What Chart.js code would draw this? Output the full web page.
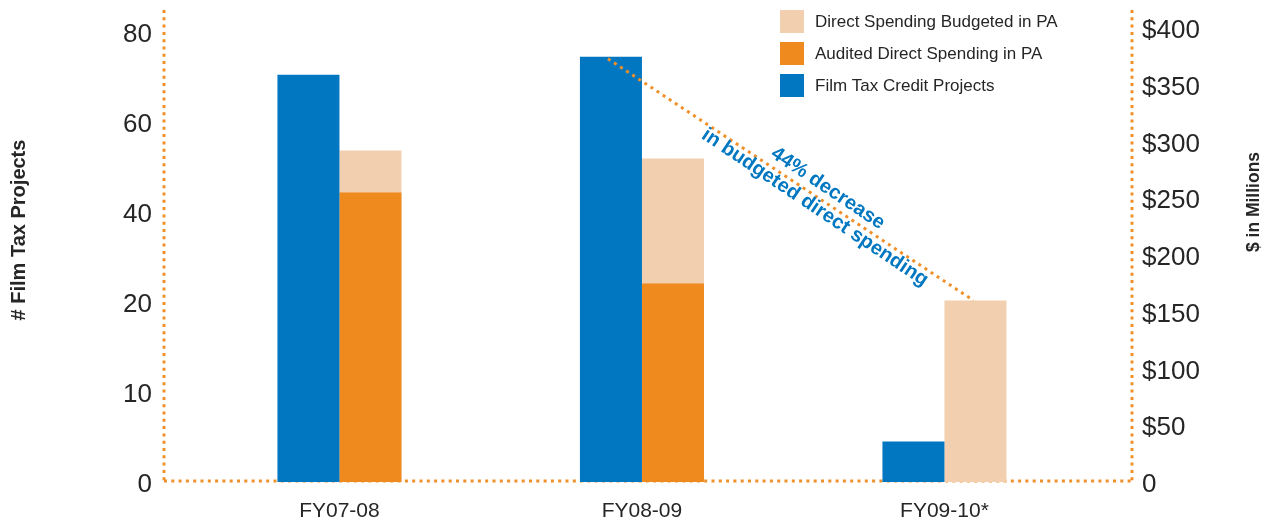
<!DOCTYPE html>
<html>
<head>
<meta charset="utf-8">
<title>Film Tax Credit Projects and Direct Spending in PA</title>
<script src="https://cdn.jsdelivr.net/npm/chart.js@4.4.1/dist/chart.umd.min.js"></script>
<style>
  html, body { margin: 0; padding: 0; background: #fff; }
  #wrap { position: relative; width: 1272px; height: 522px; }
</style>
</head>
<body>
<div id="wrap"><canvas id="filmChart"></canvas></div>
<script>
// --- Data ---
const fiscalYears = ['FY07-08', 'FY08-09', 'FY09-10*'];
const taxCreditProjects = [70.5, 74.5, 4.5];   // # of projects
const auditedSpending = [255, 175, null];       // $ millions
const budgetedSpending = [292, 285, 160];       // $ millions
const projectTicks = [0, 10, 20, 40, 60, 80];
const dollarTicks = [0, 50, 100, 150, 200, 250, 300, 350, 400];
const decreaseNote = ['44% decrease', 'in budgeted direct spending'];

// --- Colours ---
const BLUE = '#0077c0';
const ORANGE = '#ee8a1e';
const PEACH = '#f2cfae';
const DOT_ORANGE = '#f0902a';
const TEXT = '#262626';
const DOTS = [3, 4.3];

Chart.defaults.font.family = "'Liberation Sans', Arial, sans-serif";
Chart.defaults.color = TEXT;

// The left axis of the original has evenly spaced ticks with uneven
// values (0, 10, 20, 40, 60, 80), so values are placed piecewise between ticks.
class SteppedTickScale extends Chart.LinearScale {
	static id = 'steppedTicks';
	static defaults = {};

	toSteps(value) {
		const t = projectTicks;
		for (let i = 1; i < t.length; i++) {
			if (value <= t[i] || i === t.length - 1) {
				return (i - 1) + (value - t[i - 1]) / (t[i] - t[i - 1]);
			}
		}
		return 0;
	}

	buildTicks() {
		return projectTicks.map(v => ({ value: v }));
	}

	getPixelForValue(value) {
		if (value === null || value === undefined) return NaN;
		return super.getPixelForValue(this.toSteps(value));
	}
}
Chart.register(SteppedTickScale);

// Dotted frame, axis titles, legend, trend line and its note
const decorations = {
	id: 'decorations',
	beforeDatasetsDraw(chart) {
		const { ctx, chartArea: a } = chart;
		ctx.save();
		ctx.strokeStyle = DOT_ORANGE;
		ctx.lineWidth = 3;
		ctx.setLineDash(DOTS);
		ctx.beginPath();
		ctx.moveTo(a.left, a.top);
		ctx.lineTo(a.left, a.bottom);
		ctx.moveTo(a.right, a.top);
		ctx.lineTo(a.right, a.bottom);
		ctx.moveTo(a.left, a.bottom - 1);
		ctx.lineTo(a.right, a.bottom - 1);
		ctx.stroke();
		ctx.restore();
	},
	afterDatasetsDraw(chart) {
		const { ctx } = chart;
		const from = chart.getDatasetMeta(0).data[1];   // FY08-09 projects bar
		const to = chart.getDatasetMeta(2).data[2];     // FY09-10 budgeted bar

		ctx.save();
		ctx.strokeStyle = DOT_ORANGE;
		ctx.lineWidth = 3;
		ctx.setLineDash(DOTS);
		ctx.beginPath();
		ctx.moveTo(from.x - 3, from.y + 2);
		ctx.lineTo(to.x - 2, to.y);
		ctx.stroke();
		ctx.restore();

		const t = 0.578;
		const px = from.x + (to.x - from.x) * t;
		const py = from.y + (to.y - from.y) * t;
		ctx.save();
		ctx.translate(px, py);
		ctx.rotate(Math.atan2(to.y - from.y, to.x - from.x));
		ctx.fillStyle = BLUE;
		ctx.font = "bold 20px 'Liberation Sans', Arial, sans-serif";
		ctx.textAlign = 'center';
		ctx.textBaseline = 'middle';
		ctx.fillText(decreaseNote[0], 0, -11);
		ctx.fillText(decreaseNote[1], 0, 12);
		ctx.restore();
	},
	afterDraw(chart) {
		const { ctx } = chart;

		// Legend (top right, inside the plot)
		const order = [2, 1, 0];
		ctx.save();
		ctx.font = "17px 'Liberation Sans', Arial, sans-serif";
		ctx.textBaseline = 'middle';
		ctx.textAlign = 'left';
		order.forEach((dsIndex, k) => {
			const ds = chart.data.datasets[dsIndex];
			const y = 10 + k * 32;
			ctx.fillStyle = ds.backgroundColor;
			ctx.fillRect(780, y, 24, 23);
			ctx.fillStyle = TEXT;
			ctx.fillText(ds.label, 815, y + 12);
		});
		ctx.restore();

		// Axis titles
		ctx.save();
		ctx.fillStyle = TEXT;
		ctx.font = "bold 20px 'Liberation Sans', Arial, sans-serif";
		ctx.textAlign = 'center';
		ctx.textBaseline = 'middle';
		ctx.translate(19, 230);
		ctx.rotate(-Math.PI / 2);
		ctx.fillText('# Film Tax Projects', 0, 0);
		ctx.restore();

		ctx.save();
		ctx.fillStyle = TEXT;
		ctx.font = "bold 17.5px 'Liberation Sans', Arial, sans-serif";
		ctx.textAlign = 'center';
		ctx.textBaseline = 'middle';
		ctx.translate(1254, 202);
		ctx.rotate(-Math.PI / 2);
		ctx.fillText('$ in Millions', 0, 0);
		ctx.restore();
	}
};

const ctx = document.getElementById('filmChart').getContext('2d');

new Chart(ctx, {
	type: 'bar',
	data: {
		datasets: [
			{
				label: 'Film Tax Credit Projects',
				data: taxCreditProjects.map((v, i) => ({ x: i, y: v })),
				backgroundColor: BLUE,
				yAxisID: 'yL',
				stack: 'projects'
			},
			{
				label: 'Audited Direct Spending in PA',
				data: auditedSpending.map((v, i) => ({ x: i, y: v })),
				backgroundColor: ORANGE,
				yAxisID: 'yR',
				stack: 'spending'
			},
			{
				label: 'Direct Spending Budgeted in PA',
				data: budgetedSpending.map((v, i) => ({ x: i, y: v })),
				backgroundColor: PEACH,
				yAxisID: 'yR',
				stack: 'spending'
			}
		]
	},
	options: {
		responsive: true,
		maintainAspectRatio: false,
		animation: false,
		events: [],
		layout: { padding: { top: 10 } },
		datasets: {
			bar: { categoryPercentage: 0.41, barPercentage: 1, borderWidth: 0 }
		},
		scales: {
			x: {
				type: 'linear',
				min: -0.58,
				max: 2.62,
				offset: false,
				grid: { display: false, drawTicks: false, offset: false },
				border: { display: false },
				ticks: {
					padding: 17,
					maxRotation: 0,
					font: { size: 21 },
					color: TEXT,
					callback: v => fiscalYears[v] ?? ''
				},
				afterBuildTicks: scale => {
					scale.ticks = fiscalYears.map((_, i) => ({ value: i }));
				},
				afterFit: scale => {
					scale.height = 40;
					scale.paddingLeft = 0;
					scale.paddingRight = 0;
				}
			},
			yL: {
				type: 'steppedTicks',
				position: 'left',
				min: 0,
				max: 5.2444,
				grid: { display: false, drawTicks: false },
				border: { display: false },
				ticks: {
					padding: 12,
					labelOffset: 3,
					font: { size: 26 },
					color: TEXT,
					callback: v => String(v)
				},
				afterFit: scale => {
					scale.width = 164;
					scale.paddingTop = 0;
					scale.paddingBottom = 0;
				}
			},
			yR: {
				type: 'linear',
				position: 'right',
				min: 0,
				max: 415.9,
				stacked: false,
				grid: { display: false, drawTicks: false },
				border: { display: false },
				ticks: {
					padding: 10,
					labelOffset: 3,
					font: { size: 26 },
					color: TEXT,
					callback: v => (v === 0 ? '0' : '$' + v)
				},
				afterBuildTicks: scale => {
					scale.ticks = dollarTicks.map(v => ({ value: v }));
				},
				afterFit: scale => {
					scale.width = 140;
					scale.paddingTop = 0;
					scale.paddingBottom = 0;
				}
			}
		},
		plugins: {
			legend: { display: false },
			tooltip: { enabled: false }
		}
	},
	plugins: [decorations]
});
</script>
</body>
</html>
